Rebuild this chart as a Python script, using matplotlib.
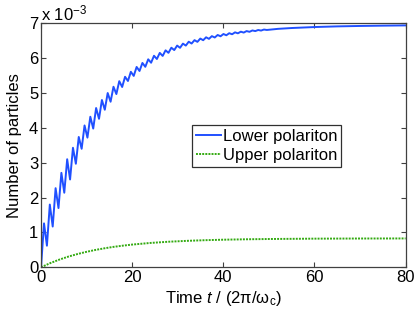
import matplotlib
matplotlib.use("Agg")
import matplotlib.pyplot as plt

plt.rcParams['font.family'] = ['Liberation Sans', 'DejaVu Sans']
plt.rcParams['mathtext.fontset'] = 'custom'
plt.rcParams['mathtext.rm'] = 'Liberation Sans'
plt.rcParams['mathtext.it'] = 'Liberation Sans:italic'

# Lower polariton (values in units of 1e-3): samples at oscillation peaks/troughs
lower_t = [0.0, 0.66, 1.295, 1.93, 2.565, 3.2, 3.835, 4.47, 5.105, 5.74, 6.375,
           7.01, 7.645, 8.28, 8.915, 9.55, 10.185, 10.82, 11.455, 12.09, 12.725,
           13.36, 13.995, 14.63, 15.265, 15.9, 16.535, 17.17,
           17.805, 18.44, 19.075, 19.71, 20.345, 20.98, 21.615, 22.25, 22.885,
           23.52, 24.155, 24.79, 25.425, 26.06, 26.695, 27.33, 27.965, 28.6,
           29.235, 29.87, 30.505, 31.14, 31.775, 32.41, 33.045, 33.68, 34.315,
           34.95, 35.585, 36.22, 36.855, 37.49, 38.125, 38.76, 39.395, 40.03,
           40.665, 41.3, 41.935, 42.57, 43.205, 43.84, 44.475, 45.11, 45.745,
           46.38, 47.015, 47.65, 48.285, 48.92, 49.555,
           52, 55, 60, 65, 70, 75, 80]
lower_v = [0.0, 1.26, 0.62, 1.80, 1.17, 2.27, 1.70, 2.71, 2.14, 3.10, 2.52,
           3.43, 2.97, 3.74, 3.40, 4.07, 3.72, 4.32, 3.98, 4.57, 4.26,
           4.80, 4.52, 5.00, 4.75, 5.18, 4.97, 5.34,
           5.173, 5.466, 5.345, 5.609, 5.491, 5.748, 5.632, 5.863, 5.752,
           5.967, 5.869, 6.069, 5.976, 6.151, 6.064, 6.225, 6.153, 6.300,
           6.232, 6.361, 6.297, 6.417, 6.361, 6.472, 6.420, 6.517, 6.468,
           6.562, 6.515, 6.599, 6.554, 6.632, 6.593, 6.665, 6.628, 6.693,
           6.657, 6.716, 6.686, 6.741, 6.713, 6.760, 6.734, 6.777, 6.756,
           6.795, 6.777, 6.808, 6.792, 6.821, 6.809,
           6.841, 6.865, 6.893, 6.912, 6.924, 6.933, 6.940]

# Upper polariton (units of 1e-3)
upper_t = [0, 2, 4, 6, 8, 10, 12, 14, 16, 18, 20, 24, 28, 32, 36, 40, 45, 50, 60, 70, 80]
upper_v = [0.0, 0.119, 0.220, 0.307, 0.381, 0.445, 0.500, 0.547, 0.588, 0.622,
           0.652, 0.699, 0.734, 0.759, 0.778, 0.792, 0.804, 0.812, 0.822, 0.826, 0.828]

x_ticks = [0, 20, 40, 60, 80]
y_ticks = [0, 1, 2, 3, 4, 5, 6, 7]
labels = ['Lower polariton', 'Upper polariton']

FS = 12

fig = plt.figure(figsize=(4.16, 3.15), dpi=100)
ax = fig.add_axes([0.0986, 0.1514, 0.8764, 0.7746])

ax.plot(lower_t, lower_v, color='#2050ff', lw=1.4, label=labels[0])
ax.plot(upper_t, upper_v, color='#33aa11', lw=1.4, ls=(0, (1, 0.6)), label=labels[1])

ax.set_xlim(0, 80)
ax.set_ylim(0, 7)
ax.set_xticks(x_ticks)
ax.set_yticks(y_ticks)
ax.tick_params(direction='in', top=True, right=True, length=3.5, width=0.8,
               colors='#404040', labelcolor='black', labelsize=FS, pad=2)
for s in ax.spines.values():
    s.set_color('#404040')
    s.set_linewidth(0.9)

ax.set_xlabel(r'Time $\mathit{t}$ / (2π/ω$_\mathrm{c}$)', fontsize=FS, labelpad=3)
ax.set_ylabel('Number of particles', fontsize=FS, labelpad=5)
ax.text(0.0, 1.0, r'x 10$^{\mathrm{-3}}$', transform=ax.transAxes, fontsize=FS,
        ha='left', va='bottom')

leg = ax.legend(loc='upper left', bbox_to_anchor=(0.414, 0.585), fontsize=FS,
                fancybox=False, edgecolor='#303030', framealpha=1,
                handlelength=1.5, handletextpad=0.1, labelspacing=0.25,
                borderpad=0.25, borderaxespad=0)
leg.get_frame().set_linewidth(0.9)

fig.savefig('out.png', dpi=100)
